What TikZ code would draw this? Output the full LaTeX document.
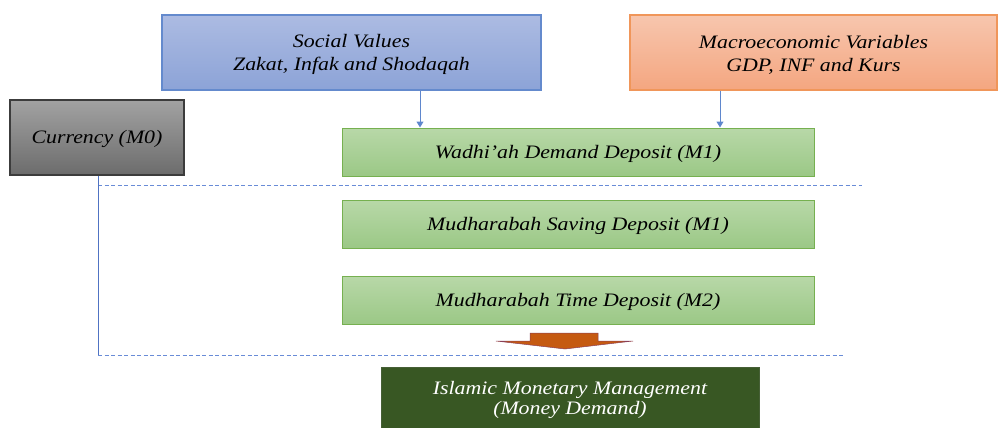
\documentclass[tikz,border=0pt]{standalone}
\usepackage{fontspec}
\setmainfont{Liberation Serif}[FakeStretch=1.15, ItalicFont={Liberation Serif Italic}, ItalicFeatures={FakeStretch=1.15}]
\usetikzlibrary{arrows.meta}
\definecolor{bluetop}{RGB}{172,187,226}
\definecolor{bluebot}{RGB}{140,163,215}
\definecolor{blueedge}{RGB}{100,138,205}
\definecolor{orgtop}{RGB}{247,198,174}
\definecolor{orgbot}{RGB}{244,166,128}
\definecolor{orgedge}{RGB}{240,150,90}
\definecolor{graytop}{RGB}{162,162,162}
\definecolor{graybot}{RGB}{108,108,108}
\definecolor{grayedge}{RGB}{60,60,60}
\definecolor{grntop}{RGB}{184,216,168}
\definecolor{grnbot}{RGB}{155,200,134}
\definecolor{grnedge}{RGB}{118,176,80}
\definecolor{darkgrn}{RGB}{56,87,35}
\definecolor{arrowblue}{RGB}{95,135,205}
\definecolor{dashblue}{RGB}{105,140,215}
\definecolor{lineblue}{RGB}{80,115,195}
\definecolor{blockorg}{RGB}{197,90,17}
\newcommand{\topstrut}[1]{\rule{0pt}{#1}}
\tikzset{
  txt/.style={font=\fontsize{19}{23}\selectfont\itshape, align=center, text=black},
  bluebox/.style={txt, shading=axis, top color=bluetop, bottom color=bluebot, draw=blueedge, line width=1.2pt, minimum width=379pt, minimum height=75pt, inner sep=0pt},
  orgbox/.style={txt, shading=axis, top color=orgtop, bottom color=orgbot, draw=orgedge, line width=1.2pt, minimum width=367pt, minimum height=75pt, inner sep=0pt},
  graybox/.style={txt, shading=axis, top color=graytop, bottom color=graybot, draw=grayedge, line width=1.2pt, minimum width=174pt, minimum height=75pt, inner sep=0pt, text height=17pt},
  grnbox/.style={txt, shading=axis, top color=grntop, bottom color=grnbot, draw=grnedge, line width=1pt, minimum width=472pt, minimum height=48pt, inner sep=0pt, text height=16.5pt},
  darkbox/.style={txt, font=\fontsize{19}{20}\selectfont\itshape, text=white, fill=darkgrn, draw=darkgrn!80!gray, line width=1pt, minimum width=378pt, minimum height=61pt, inner sep=0pt},
  conn/.style={draw=arrowblue, line width=1pt, -{Triangle[width=7pt,length=6pt]}},
  sep/.style={draw=dashblue, line width=0.9pt, dash pattern=on 4pt off 2.5pt},
  vline/.style={draw=lineblue, line width=0.9pt}
}
\begin{document}
\begin{tikzpicture}[x=1pt, y=-1pt]
\useasboundingbox (0,0) rectangle (998,428);
\node[bluebox] (sv) at (351.5,52.5) {\topstrut{17pt}Social Values\\Zakat, Infak and Shodaqah};
\node[orgbox] (mv) at (813.5,52.5) {\topstrut{17pt}Macroeconomic Variables\\GDP, INF and Kurs};
\node[graybox] (cu) at (97,137.5) {Currency (M0)};
\node[grnbox] (wd) at (578,152) {Wadhi'ah Demand Deposit (M1)};
\node[grnbox] (ms) at (578,224) {Mudharabah Saving Deposit (M1)};
\node[grnbox] (mt) at (578,300) {Mudharabah Time Deposit (M2)};
\node[darkbox] (im) at (570,397.5) {\topstrut{18pt}Islamic Monetary Management\\(Money Demand)};
\coordinate (a1) at (420,0);
\coordinate (a2) at (720,0);
\draw[conn] (sv.south -| a1) -- (wd.north -| a1);
\draw[conn] (mv.south -| a2) -- (wd.north -| a2);
\coordinate (d1l) at (98,185);
\coordinate (d1r) at (862,185);
\coordinate (d2l) at (98,355);
\coordinate (d2r) at (845,355);
\draw[sep] (d1l) -- (d1r);
\draw[sep] (d2l) -- (d2r);
\draw[vline] (cu.south -| d2l) -- (d2l);
\draw[fill=blockorg, draw=blockorg!70!blue, line width=0.5pt]
  (530,333) -- (598,333) -- (598,341) -- (633,341) -- (565,349) -- (496,341) -- (530,341) -- cycle;
\end{tikzpicture}
\end{document}
